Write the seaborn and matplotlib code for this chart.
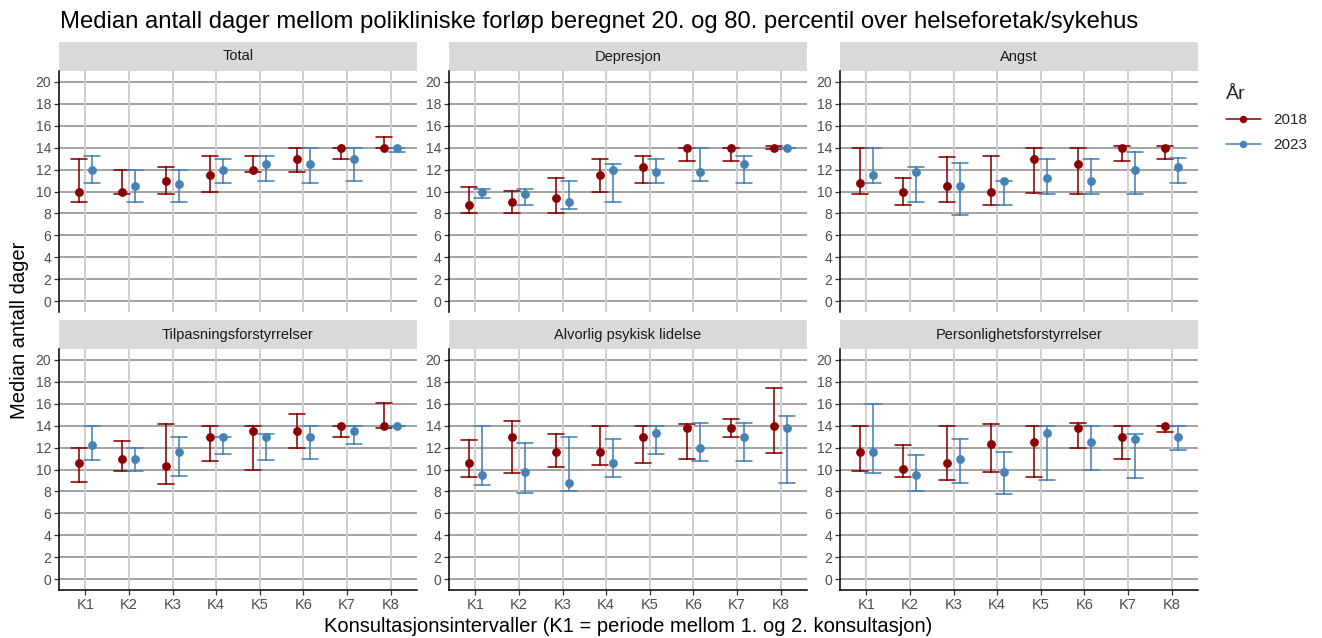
import matplotlib
matplotlib.use("Agg")
import matplotlib.pyplot as plt
from matplotlib.lines import Line2D
from matplotlib.patches import Rectangle
import numpy as np
import pandas as pd
import seaborn as sns

# Consultation intervals and years
intervals = ["K1", "K2", "K3", "K4", "K5", "K6", "K7", "K8"]
years = ["2018", "2023"]
panels = ["Total", "Depresjon", "Angst",
          "Tilpasningsforstyrrelser", "Alvorlig psykisk lidelse",
          "Personlighetsforstyrrelser"]

# Median days with 20th / 80th percentile across health trusts
total_2018 = {"p20": [9, 9.8, 9.8, 10, 11.8, 11.8, 13, 14],
              "median": [10, 10, 11, 11.5, 12, 13, 14, 14],
              "p80": [13, 12, 12.2, 13.2, 13.2, 14, 14, 15]}
total_2023 = {"p20": [10.8, 9, 9, 10.8, 11, 10.8, 11, 13.6],
              "median": [12, 10.5, 10.7, 12, 12.5, 12.5, 13, 14],
              "p80": [13.2, 12, 12, 13, 13.2, 14, 14, 14]}

depresjon_2018 = {"p20": [8, 8, 8, 10, 10.8, 12.8, 12.8, 13.9],
                  "median": [8.75, 9, 9.45, 11.5, 12.25, 14, 14, 14],
                  "p80": [10.4, 10.05, 11.2, 13, 13.2, 14, 14, 14.15]}
depresjon_2023 = {"p20": [9.4, 8.75, 8.4, 9, 10.8, 11, 10.8, 14],
                  "median": [10, 9.75, 9, 12, 11.75, 11.75, 12.5, 14],
                  "p80": [10.2, 10.2, 11, 12.5, 13, 14, 13.2, 14]}

angst_2018 = {"p20": [9.8, 8.8, 9, 8.8, 9.85, 9.8, 12.8, 13],
              "median": [10.75, 10, 10.5, 10, 13, 12.5, 14, 14],
              "p80": [14, 11.2, 13.15, 13.2, 14, 14, 14.15, 14.15]}
angst_2023 = {"p20": [10.8, 9, 7.9, 8.8, 9.8, 9.8, 9.8, 10.8],
              "median": [11.5, 11.75, 10.5, 11, 11.25, 11, 12, 12.25],
              "p80": [14, 12.2, 12.6, 11, 13, 13, 13.6, 13.1]}

tilpasning_2018 = {"p20": [8.9, 9.85, 8.7, 10.8, 10, 12, 13, 13.8],
                   "median": [10.6, 11, 10.3, 13, 13.5, 13.5, 14, 14],
                   "p80": [12, 12.6, 14.15, 14, 14, 15.1, 14, 16.1]}
tilpasning_2023 = {"p20": [10.85, 9.85, 9.45, 11.4, 10.85, 11, 12.3, 14],
                   "median": [12.25, 11, 11.6, 13, 13, 13, 13.5, 14],
                   "p80": [14, 12, 13, 13, 13.2, 14, 14, 14]}

alvorlig_2018 = {"p20": [9.3, 9.65, 10.25, 10.4, 10.6, 11, 13, 11.55],
                 "median": [10.6, 13, 11.6, 11.6, 13, 13.8, 13.8, 14],
                 "p80": [12.65, 14.45, 13.2, 14, 14, 14.15, 14.6, 17.45]}
alvorlig_2023 = {"p20": [8.6, 7.85, 8, 9.3, 11.4, 10.8, 10.8, 8.8],
                 "median": [9.5, 9.75, 8.75, 10.6, 13.3, 12, 13, 13.8],
                 "p80": [14, 12.4, 13, 12.8, 14, 14.2, 14.2, 14.9]}

personlighet_2018 = {"p20": [9.9, 9.3, 9, 9.8, 9.3, 12, 11, 13.4],
                     "median": [11.6, 10.05, 10.6, 12.3, 12.55, 13.8, 13, 14],
                     "p80": [14, 12.2, 14, 14.15, 14, 14.2, 14, 14]}
personlighet_2023 = {"p20": [9.65, 8, 8.8, 7.8, 9, 10, 9.25, 11.8],
                     "median": [11.6, 9.5, 11, 9.75, 13.3, 12.55, 12.8, 13],
                     "p80": [15.95, 11.35, 12.8, 11.6, 14, 14, 13.2, 14]}

panel_data = {
    "Total": (total_2018, total_2023),
    "Depresjon": (depresjon_2018, depresjon_2023),
    "Angst": (angst_2018, angst_2023),
    "Tilpasningsforstyrrelser": (tilpasning_2018, tilpasning_2023),
    "Alvorlig psykisk lidelse": (alvorlig_2018, alvorlig_2023),
    "Personlighetsforstyrrelser": (personlighet_2018, personlighet_2023),
}

# Long format: three rows per point (p20, median, p80); the median of the
# three is the point estimate and their full range is the interval.
rows = []
for panel, series in panel_data.items():
    for year, stats in zip(years, series):
        for stat in ("p20", "median", "p80"):
            for k, v in zip(intervals, stats[stat]):
                rows.append({"panel": panel, "year": year, "K": k,
                             "stat": stat, "dager": v})
df = pd.DataFrame(rows)

colors = {"2018": "#8B0000", "2023": "#4682B4"}

sns.set_theme(style="white")
plt.rcParams["font.family"] = ["Liberation Sans", "DejaVu Sans"]

W, H = 1322, 638
fig = plt.figure(figsize=(W / 100, H / 100), dpi=100)

col_x = [(59, 417), (449, 807), (840, 1198)]
row_y = [(71, 312), (349, 590)]
strip_h = 29

grid_h = "#8a8a8a"
grid_v = "#cfcfcf"

for i, panel in enumerate(panels):
    r, c = divmod(i, 3)
    x0, x1 = col_x[c]
    y0, y1 = row_y[r]
    ax = fig.add_axes([x0 / W, 1 - y1 / H, (x1 - x0) / W, (y1 - y0) / H])
    sub = df[df["panel"] == panel]
    sns.pointplot(data=sub, x="K", y="dager", hue="year",
                  order=intervals, hue_order=years, palette=colors,
                  estimator="median", errorbar=("pi", 100),
                  dodge=0.3, linestyle="none", markers="o",
                  markersize=4.3, capsize=0.37,
                  err_kws={"linewidth": 1.15}, legend=False, ax=ax)
    ax.set_xlim(-0.6, 7.6)
    ax.set_ylim(-1, 21)
    ax.set_yticks(np.arange(0, 21, 2))
    ax.set_xlabel("")
    ax.set_ylabel("")
    ax.set_axisbelow(True)
    for yv in np.arange(0, 21, 2):
        ax.axhline(yv, color=grid_h, linewidth=1.1, zorder=0)
    for xv in range(len(intervals)):
        ax.axvline(xv, color=grid_v, linewidth=1.4, zorder=0)
    for s in ("top", "right"):
        ax.spines[s].set_visible(False)
    ax.spines["left"].set_color("black")
    ax.spines["left"].set_linewidth(1.1)
    ax.tick_params(axis="y", length=3.5, width=0.9, color="#333333",
                   labelsize=10, labelcolor="#4d4d4d", pad=2, left=True)
    if r == 1:
        ax.spines["bottom"].set_color("black")
        ax.spines["bottom"].set_linewidth(1.1)
        ax.tick_params(axis="x", length=3.5, width=0.9, color="#333333",
                       labelsize=10.5, labelcolor="#4d4d4d", pad=2, bottom=True)
    else:
        ax.spines["bottom"].set_visible(False)
        ax.tick_params(axis="x", length=0, labelbottom=False)
    # facet strip
    frac = strip_h / (y1 - y0)
    ax.add_patch(Rectangle((0, 1), 1, frac, transform=ax.transAxes,
                           facecolor="#d9d9d9", edgecolor="none",
                           clip_on=False))
    ax.text(0.5, 1 + frac / 2, panel, transform=ax.transAxes,
            ha="center", va="center", fontsize=10.5, color="#1a1a1a")

fig.text(60 / W, 1 - 22 / H,
         "Median antall dager mellom polikliniske forløp beregnet 20. og 80. "
         "percentil over helseforetak/sykehus",
         ha="left", va="center", fontsize=17.2, color="black")
fig.text(20 / W, 1 - 330 / H, "Median antall dager", rotation=90,
         ha="center", va="center", fontsize=14.5, color="black")
fig.text(628 / W, 1 - 627 / H,
         "Konsultasjonsintervaller (K1 = periode mellom 1. og 2. konsultasjon)",
         ha="center", va="center", fontsize=14.5, color="black")

handles = [Line2D([], [], color=colors[y], marker="o", markersize=4.3,
                  linewidth=1.1) for y in years]
leg = fig.legend(handles, years, title="År", loc="upper left",
                 bbox_to_anchor=(1212 / W, 1 - 72 / H), frameon=False,
                 fontsize=11, title_fontsize=14, handlelength=2.3,
                 labelspacing=0.7, alignment="left")

fig.savefig("out.png", dpi=100)
